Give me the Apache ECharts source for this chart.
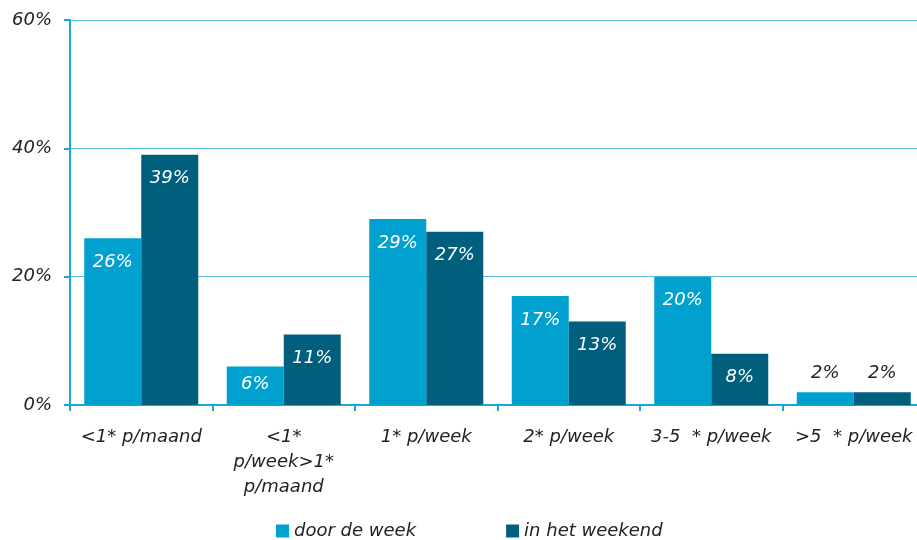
<!DOCTYPE html>
<html><head><meta charset="utf-8">
<script src="https://cdn.jsdelivr.net/npm/echarts@6/dist/echarts.min.js"></script>
<style>html,body{margin:0;padding:0;background:#fff}#c{width:917px;height:540px}</style>
</head><body><div id="c"></div>
<script>
const categories = ['<1* p/maand', '<1*\np/week>1*\np/maand', '1* p/week', '2* p/week', '3-5  * p/week', '>5  * p/week'];
const doorDeWeek = [26, 6, 29, 17, 20, 2];
const inHetWeekend = [39, 11, 27, 13, 8, 2];
const yTicks = [0, 20, 40, 60];
const seriesNames = ['door de week', 'in het weekend'];

const FONT = 'DejaVu Sans';
const light = '#00A0CF';
const dark = '#005F7C';

function mkData(arr) {
  return arr.map(v => {
    if (v <= 3) {
      return { value: v, label: { position: 'top', color: '#222', distance: 10 } };
    }
    if (v <= 6) {
      return { value: v, label: { distance: 9 } };
    }
    return v;
  });
}

const chart = echarts.init(document.getElementById('c'), null, { renderer: 'canvas' });
const lbl = {
  show: true, position: 'insideTop', distance: 15, color: '#fff',
  fontFamily: FONT, fontStyle: 'italic', fontSize: 18, formatter: '{c}%'
};
chart.setOption({
  animation: false,
  textStyle: { fontFamily: FONT },
  grid: { left: 70, top: 20, width: 855, bottom: 135, containLabel: false, outerBoundsMode: 'none' },
  legend: {
    left: 271, top: 517, itemWidth: 13, itemHeight: 13, itemGap: 90,
    icon: 'rect',
    textStyle: { fontFamily: FONT, fontStyle: 'italic', fontSize: 18, color: '#222' },
    data: seriesNames
  },
  xAxis: {
    type: 'category', data: categories,
    axisLine: { lineStyle: { color: '#1AA7D6', width: 2 } },
    axisTick: { show: true, length: 6, lineStyle: { color: '#1AA7D6', width: 2 } },
    axisLabel: { color: '#222', fontFamily: FONT, fontStyle: 'italic', fontSize: 18, lineHeight: 25, margin: 20, interval: 0 }
  },
  yAxis: {
    type: 'value', min: 0, max: 60, interval: 20,
    axisLine: { show: true, lineStyle: { color: '#1AA7D6', width: 2 } },
    axisTick: { show: true, length: 6, lineStyle: { color: '#1AA7D6', width: 2 } },
    splitLine: { show: true, lineStyle: { color: '#5BC3E3', width: 1 } },
    axisLabel: { color: '#222', fontFamily: FONT, fontStyle: 'italic', fontSize: 18, margin: 18, formatter: v => yTicks.includes(v) ? v + '%' : '' }
  },
  series: [
    { name: seriesNames[0], type: 'bar', data: mkData(doorDeWeek), itemStyle: { color: light }, barGap: '0%', barCategoryGap: '20%', label: lbl },
    { name: seriesNames[1], type: 'bar', data: mkData(inHetWeekend), itemStyle: { color: dark }, barGap: '0%', barCategoryGap: '20%', label: lbl }
  ]
});
</script></body></html>
